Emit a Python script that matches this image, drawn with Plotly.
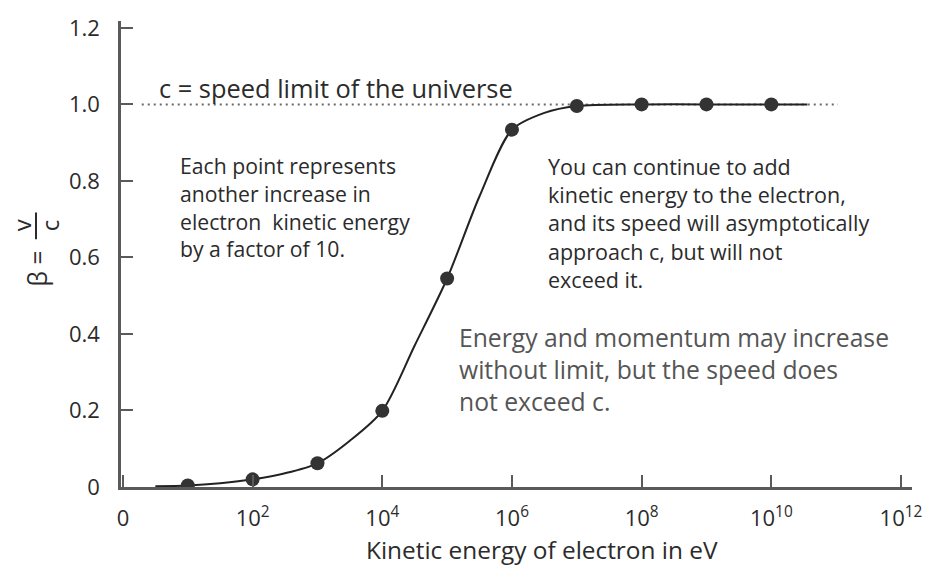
import plotly.graph_objects as go

# ---------------- data ----------------
point_energy = [1e1, 1e2, 1e3, 1e4, 1e5, 1e6, 1e7, 1e8, 1e9, 1e10]
point_beta = [0.004, 0.02, 0.062, 0.199, 0.545, 0.934, 0.996, 1.0, 1.0, 1.0]

curve_energy = [3.16, 1e1, 3.16e1, 1e2, 3.16e2, 1e3, 3.16e3, 1e4, 3.16e4, 1e5,
                3.16e5, 1e6, 3.16e6, 1e7, 1e8, 1e9, 1e10, 3.6e10]
curve_beta = [0.002, 0.004, 0.01, 0.02, 0.036, 0.062, 0.121, 0.199, 0.37, 0.545,
              0.76, 0.934, 0.978, 0.996, 1.0, 1.0, 1.0, 1.0]

limit_energy = [1.95, 1.07e11]
limit_beta = [1.0, 1.0]

x_tickvals = [1, 1e2, 1e4, 1e6, 1e8, 1e10, 1e12]
x_ticktext = ["0", "10<sup>2</sup>", "10<sup>4</sup>", "10<sup>6</sup>",
              "10<sup>8</sup>", "10<sup>10</sup>", "10<sup>12</sup>"]
y_tickvals = [0, 0.2, 0.4, 0.6, 0.8, 1.0, 1.2]
y_ticktext = ["0", "0.2", "0.4", "0.6", "0.8", "1.0", "1.2"]

label_c = "c = speed limit of the universe"
note_left = ["Each point represents", "another increase in",
             "electron  kinetic energy", "by a factor of 10."]
note_right = ["You can continue to add", "kinetic energy to the electron,",
              "and its speed will asymptotically", "approach c, but will not",
              "exceed it."]
note_big = ["Energy and momentum may increase", "without limit, but the speed does",
            "not exceed c."]
x_title = "Kinetic energy of electron in eV"

# ---------------- layout geometry (pixels) ----------------
W, H = 936, 571
L, R, T, B = 121, 912, 15, 487
FONT = "Open Sans"
DARK = "#2b2b2b"
AXIS = "#5a5a5a"


def px(x):
    return (x - L) / (R - L)


def py(y):
    return (B - y) / (B - T)


fig = go.Figure()

fig.add_trace(go.Scatter(x=limit_energy, y=limit_beta, mode="lines",
                         line=dict(color="#6a6a6a", width=2, dash="2px,4px"),
                         hoverinfo="skip", showlegend=False))
fig.add_trace(go.Scatter(x=curve_energy, y=curve_beta, mode="lines",
                         line=dict(color="#222222", width=2, shape="spline", smoothing=0.8),
                         hoverinfo="skip", showlegend=False))
fig.add_trace(go.Scatter(x=point_energy, y=point_beta, mode="markers",
                         marker=dict(color="#333333", size=14),
                         showlegend=False))

annotations = []


def text_ann(x, y, text, size, color=DARK, xanchor="left", angle=0):
    annotations.append(dict(xref="paper", yref="paper", x=px(x), y=py(y), text=text,
                            showarrow=False, xanchor=xanchor, yanchor="middle",
                            textangle=angle,
                            font=dict(family=FONT, size=size, color=color)))


text_ann(157, 83, label_c, 25.4)
for i, line in enumerate(note_left):
    text_ann(178, 161 + i * 28.3, line, 21.2)
for i, line in enumerate(note_right):
    text_ann(546, 162 + i * 28.7, line, 21.5)
for i, line in enumerate(note_big):
    text_ann(457, 336 + i * 32, line, 24.7, color="#555555")
text_ann(542, 550, x_title, 24.4, xanchor="center")

# y-axis label: beta = v / c (rotated)
text_ann(37, 266, "β =", 25, xanchor="center", angle=-90)
text_ann(21, 222, "v", 24, xanchor="center", angle=-90)
text_ann(49, 222, "c", 24, xanchor="center", angle=-90)

fig.update_layout(
    width=W, height=H,
    margin=dict(l=L, r=W - R, t=T, b=H - B, pad=0),
    paper_bgcolor="white", plot_bgcolor="white",
    annotations=annotations,
    shapes=[dict(type="line", xref="paper", yref="paper",
                 x0=px(36), x1=px(36), y0=py(209), y1=py(236),
                 line=dict(color=DARK, width=2))],
    xaxis=dict(type="log", range=[-0.03, 12.17], tickvals=x_tickvals, ticktext=x_ticktext,
               showgrid=False, zeroline=False, showline=True, linecolor=AXIS, linewidth=2.5,
               ticks="inside", ticklen=12, tickwidth=2, tickcolor=AXIS,
               ticklabelstandoff=10,
               tickfont=dict(family=FONT, size=22, color=DARK)),
    yaxis=dict(range=[0, 1.218], tickvals=y_tickvals, ticktext=y_ticktext,
               showgrid=False, zeroline=False, showline=True, linecolor=AXIS, linewidth=2.5,
               ticks="inside", ticklen=12, tickwidth=2, tickcolor=AXIS,
               ticklabelstandoff=14,
               tickfont=dict(family=FONT, size=22, color=DARK)),
)

fig.write_html("out.html")
